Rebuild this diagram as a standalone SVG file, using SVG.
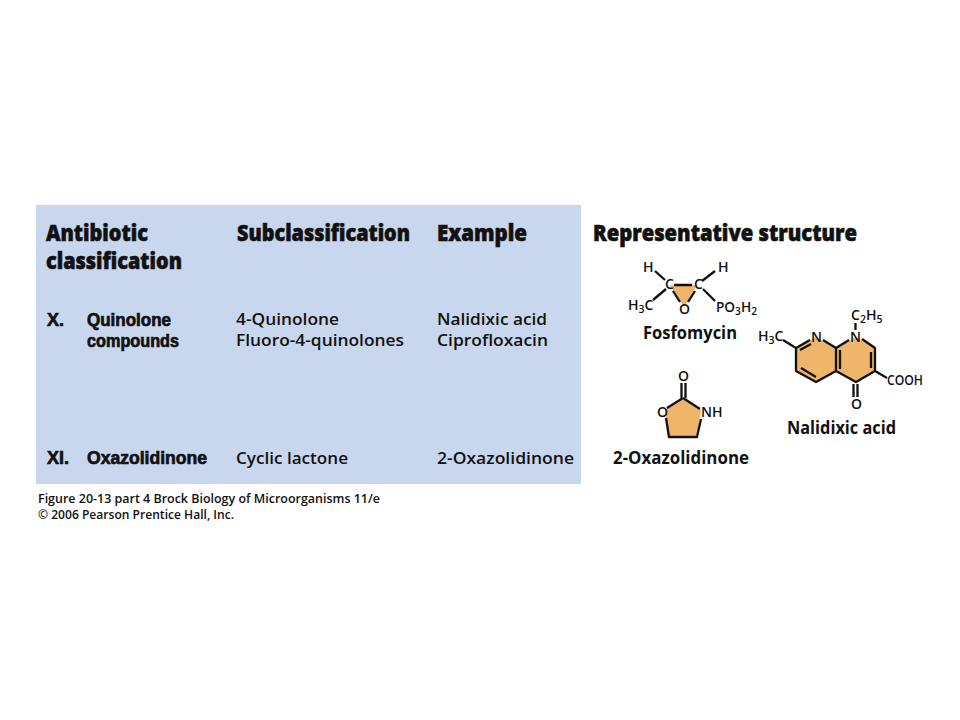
<svg xmlns="http://www.w3.org/2000/svg" width="960" height="720" viewBox="0 0 960 720">
<style>
text{font-family:"Open Sans","Noto Sans","Liberation Sans",sans-serif;fill:#111}
.h{font-size:22px;font-weight:800;stroke:#111;stroke-width:.6px}
.c{font-family:"Liberation Sans",Arial,sans-serif;font-size:18px;font-weight:700;stroke:#111;stroke-width:.7px}
.b{font-size:17px;font-weight:600}
.n{font-size:17px;font-weight:700}
.a{font-size:14px;font-weight:600}
.s{font-size:10.5px;font-weight:600}
.f{font-size:12.5px;font-weight:600}
.ring{fill:#efb56a;stroke:none}
.bond{fill:none;stroke:#111;stroke-width:2.3;stroke-linecap:butt;stroke-linejoin:round}
</style>
<rect width="960" height="720" fill="#fff"/>
<rect id="panel" x="36" y="205" width="545" height="279" fill="#c9d7ee"/>
<g id="table-headers">
<text class="h" x="46" y="241" textLength="102" lengthAdjust="spacingAndGlyphs">Antibiotic</text>
<text class="h" x="46" y="269" textLength="136" lengthAdjust="spacingAndGlyphs">classification</text>
<text class="h" x="237" y="241" textLength="173" lengthAdjust="spacingAndGlyphs">Subclassification</text>
<text class="h" x="437" y="241" textLength="90" lengthAdjust="spacingAndGlyphs">Example</text>
<text class="h" x="593" y="241" textLength="264" lengthAdjust="spacingAndGlyphs">Representative structure</text>
</g>
<g id="row-x">
<text class="c" x="47" y="326" textLength="17" lengthAdjust="spacingAndGlyphs">X.</text>
<text class="c" x="87" y="326" textLength="84" lengthAdjust="spacingAndGlyphs">Quinolone</text>
<text class="c" x="87" y="347" textLength="92" lengthAdjust="spacingAndGlyphs">compounds</text>
<text class="b" x="236" y="325" textLength="103" lengthAdjust="spacingAndGlyphs">4-Quinolone</text>
<text class="b" x="236" y="346" textLength="168" lengthAdjust="spacingAndGlyphs">Fluoro-4-quinolones</text>
<text class="b" x="437" y="325" textLength="110" lengthAdjust="spacingAndGlyphs">Nalidixic acid</text>
<text class="b" x="437" y="346" textLength="111" lengthAdjust="spacingAndGlyphs">Ciprofloxacin</text>
</g>
<g id="row-xi">
<text class="c" x="47" y="464" textLength="22" lengthAdjust="spacingAndGlyphs">XI.</text>
<text class="c" x="87" y="464" textLength="120" lengthAdjust="spacingAndGlyphs">Oxazolidinone</text>
<text class="b" x="236" y="464" textLength="112" lengthAdjust="spacingAndGlyphs">Cyclic lactone</text>
<text class="b" x="437" y="464" textLength="137" lengthAdjust="spacingAndGlyphs">2-Oxazolidinone</text>
</g>
<g id="caption">
<text class="f" x="38" y="503" textLength="342" lengthAdjust="spacingAndGlyphs">Figure 20-13 part 4  Brock Biology of Microorganisms 11/e</text>
<text class="f" x="38" y="519" textLength="196" lengthAdjust="spacingAndGlyphs">© 2006 Pearson Prentice Hall, Inc.</text>
</g>
<g id="fosfomycin">
<polygon class="ring" points="670,285 697,285 684,307"/>
<path class="bond" d="M655,271L665,280M715,271L702,281M653,300L666,289M703,289L715,301M674,285H692M673,291L680,302M695,291L688,302"/>
<text class="a" x="643" y="272">H</text>
<text class="a" x="718" y="272">H</text>
<text class="a" x="665" y="289">C</text>
<text class="a" x="694" y="289">C</text>
<text class="a" x="679" y="314">O</text>
<text class="a" x="628" y="310">H<tspan class="s" dy="3">3</tspan><tspan dy="-3">C</tspan></text>
<text class="a" x="716" y="312" textLength="41" lengthAdjust="spacingAndGlyphs">PO<tspan class="s" dy="3">3</tspan><tspan dy="-3">H</tspan><tspan class="s" dy="3">2</tspan></text>
<text class="n" x="643" y="339" textLength="94" lengthAdjust="spacingAndGlyphs">Fosfomycin</text>
</g>
<g id="nalidixic-acid">
<polygon class="ring" points="816,337 836,348 856,337 875,348 875,371 856,382 836,371 816,382 796,371 796,348"/>
<path class="bond" d="M783,340L796,348L810,340M823,340L836,348V371L816,382L796,371V348M800,350L811,344M801,368L816,377M840,350V369M836,348L849,340M862,339L875,348V371L856,382L836,371M871,352V368M875,371L887,378M853.500,384V397M857.500,384V397M855.500,323V330"/>
<text class="a" x="758" y="341">H<tspan class="s" dy="3">3</tspan><tspan dy="-3">C</tspan></text>
<text class="a" x="811" y="342">N</text>
<text class="a" x="850" y="342">N</text>
<text class="a" x="851" y="320">C<tspan class="s" dy="3">2</tspan><tspan dy="-3">H</tspan><tspan class="s" dy="3">5</tspan></text>
<text class="a" x="887" y="385" textLength="36" lengthAdjust="spacingAndGlyphs">COOH</text>
<text class="a" x="851" y="409">O</text>
<text class="n" x="787" y="434" textLength="109" lengthAdjust="spacingAndGlyphs">Nalidixic acid</text>
</g>
<g id="oxazolidinone">
<polygon class="ring" points="683,398 665,410 669,437 697,437 701,410"/>
<path class="bond" d="M683,398L667,408M683,398L700,409M666,418L669,437H697L701,419M681.500,398V383M685.500,398V383"/>
<text class="a" x="678" y="381">O</text>
<text class="a" x="657" y="417">O</text>
<text class="a" x="701" y="417">NH</text>
<text class="n" x="613" y="464" textLength="136" lengthAdjust="spacingAndGlyphs">2-Oxazolidinone</text>
</g>
</svg>
